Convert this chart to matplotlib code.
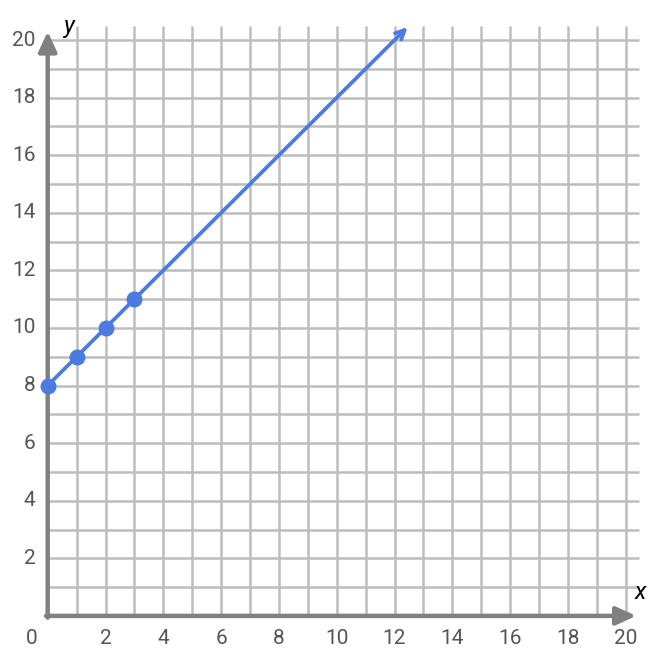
import matplotlib
matplotlib.use("Agg")
import matplotlib.pyplot as plt
import numpy as np

# data
pts_x = [0, 1, 2, 3]
pts_y = [8, 9, 10, 11]
line_end = (12.45, 20.45)
x_ticks = [2, 4, 6, 8, 10, 12, 14, 16, 18, 20]
y_ticks = [2, 4, 6, 8, 10, 12, 14, 16, 18, 20]

plt.rcParams['font.family'] = ['Roboto', 'DejaVu Sans']

fig = plt.figure(figsize=(6.68, 6.66), dpi=100)
ax = fig.add_axes([0, 0, 1, 1])
ax.set_xlim(-1.65, 21.46)
ax.set_ylim(-1.74, 21.39)
ax.axis('off')

grid_c = '#bdbdbd'
axis_c = '#808080'
blue = '#4a7be0'

# grid
for i in range(1, 21):
    ax.plot([i, i], [0, 20.5], color=grid_c, lw=1.8, zorder=1, solid_capstyle='butt')
for j in range(1, 21):
    ax.plot([0, 20.45], [j, j], color=grid_c, lw=1.8, zorder=1, solid_capstyle='butt')

# axes with arrows
head = '-|>,head_length=1.2,head_width=0.55'
ax.annotate('', xy=(20.36, 0), xytext=(-0.06, 0),
            arrowprops=dict(arrowstyle=head, color=axis_c, lw=3.2,
                            shrinkA=0, shrinkB=0), zorder=3)
ax.annotate('', xy=(0, 20.3), xytext=(0, -0.06),
            arrowprops=dict(arrowstyle=head, color=axis_c, lw=3.2,
                            shrinkA=0, shrinkB=0), zorder=3)

# line with arrow
ax.annotate('', xy=line_end, xytext=(pts_x[0], pts_y[0]),
            arrowprops=dict(arrowstyle='->,head_length=0.65,head_width=0.32',
                            color=blue, lw=2.7, shrinkA=0, shrinkB=0), zorder=4)
ax.plot(pts_x, pts_y, 'o', color=blue, markersize=10.5, zorder=5, clip_on=False)

# tick labels
txt_c = '#555555'
fs = 15
for t in x_ticks:
    ax.text(t, -0.8, str(t), ha='center', va='center', fontsize=fs, color=txt_c)
ax.text(-0.54, -0.8, '0', ha='center', va='center', fontsize=fs, color=txt_c)
for t in y_ticks:
    ax.text(-0.42, t, str(t), ha='right', va='center', fontsize=fs, color=txt_c)

ax.text(0.75, 20.48, 'y', style='italic', fontsize=17, ha='center', va='center', color='black')
ax.text(20.5, 0.8, 'x', style='italic', fontsize=17, ha='center', va='center', color='black')

fig.savefig('out.png', dpi=100)
